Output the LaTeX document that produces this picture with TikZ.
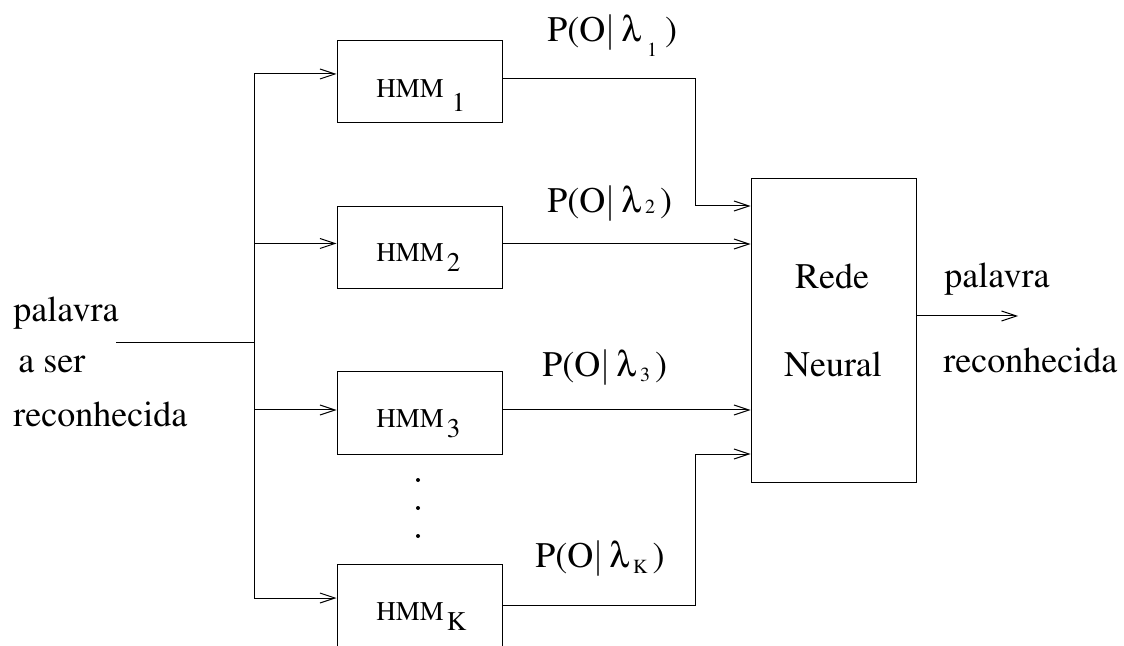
\documentclass[tikz,border=0pt]{standalone}
\usepackage[T1]{fontenc}
\usepackage{mathptmx}
\usepackage[Symbol]{upgreek}
\usetikzlibrary{arrows.meta}
\begin{document}
\begin{tikzpicture}[x=0.5pt,y=-0.5pt,
  box/.style={draw, line width=0.5pt, minimum width=82.5pt, minimum height=41pt, inner sep=0pt},
  txt/.style={font=\fontsize{18}{20}\selectfont, inner sep=0pt, anchor=base west},
  hmmtxt/.style={font=\fontsize{13.5}{15}\selectfont, inner sep=0pt, anchor=base west},
  conn/.style={line width=0.5pt},
  arr/.style={conn, -{Straight Barb[length=7.5pt,width=5pt]}},
  dot/.style={circle, fill, inner sep=0pt, minimum size=2pt}]
\useasboundingbox (0,0) rectangle (1124,646);
\newcommand{\sub}[2]{\raisebox{-#1}{\fontsize{10}{12}\selectfont #2}}
\newcommand{\lam}{\ensuremath{\uplambda}}
% boxes
\node[box] (h1) at (419.5,82) {};
\node[box] (h2) at (419.5,247.5) {};
\node[box] (h3) at (419.5,413) {};
\node[box, minimum height=45pt] (hK) at (419.5,609) {};
\node[box, minimum height=151.5pt] (nn) at (833.5,330.5) {};
% box texts
\node[hmmtxt] (t1) at (376,98) {HMM\hspace{4pt}\raisebox{-7pt}{1}};
\node[hmmtxt] (t2) at (376,262) {HMM\hspace{1.5pt}\raisebox{-5pt}{2}};
\node[hmmtxt] (t3) at (376,428) {HMM\hspace{1.5pt}\raisebox{-5pt}{3}};
\node[hmmtxt] (tK) at (376,620) {HMM\hspace{1.5pt}\raisebox{-5pt}{K}};
\node[txt, anchor=base] (rede) at (832,289) {Rede};
\node[txt, anchor=base] (neural) at (833,377) {Neural};
% left and right texts
\node[txt] (l1) at (13,322) {palavra};
\node[txt] (l2) at (18,372) {a ser};
\node[txt] (l3) at (13,427) {reconhecida};
\node[txt] (r1) at (944,288) {palavra};
\node[txt] (r2) at (943,372) {reconhecida};
% probability labels
\node[txt] (p1) at (547,42) {P(O$|$\hspace{3pt}\lam\hspace{3pt}\sub{7.5pt}{1}\hspace{4pt})};
\node[txt] (p2) at (547,213) {P(O$|$\hspace{3pt}\lam\hspace{2pt}\sub{0.5pt}{2}\hspace{2.5pt})};
\node[txt] (p3) at (542,377) {P(O$|$\hspace{3pt}\lam\hspace{2pt}\sub{2.5pt}{3}\hspace{2.5pt})};
\node[txt] (pK) at (535,567) {P(O$|$\hspace{3pt}\lam\hspace{2pt}\sub{3pt}{K}\hspace{2.5pt})};
% dots
\node[dot] (d1) at (418,480) {};
\node[dot] (d2) at (418,508) {};
\node[dot] (d3) at (418,536) {};
% coordinates
\coordinate (in) at (116,343);
\coordinate (bus) at (254,343);
\coordinate (j1) at (695,206);
\coordinate (jK) at (695,454);
\coordinate (out) at (1018,316);
% input distribution
\draw[conn] (in) -- (bus);
\draw[arr] (bus) |- ([yshift=4pt]h1.west);
\draw[arr] (bus) |- ([yshift=2pt]h2.west);
\draw[arr] (bus) |- ([yshift=1.5pt]h3.west);
\draw[arr] (bus) |- ([yshift=5.5pt]hK.west);
% outputs to neural net
\draw[arr] ([yshift=1.5pt]h1.east) -| (j1) -- (nn.west |- j1);
\draw[arr] (h2.east |- 0,244) -- (nn.west |- 0,244);
\draw[arr] (h3.east |- 0,410) -- (nn.west |- 0,410);
\draw[arr] ([yshift=2pt]hK.east) -| (jK) -- (nn.west |- jK);
\draw[arr] (nn.east |- out) -- (out);
\end{tikzpicture}
\end{document}
